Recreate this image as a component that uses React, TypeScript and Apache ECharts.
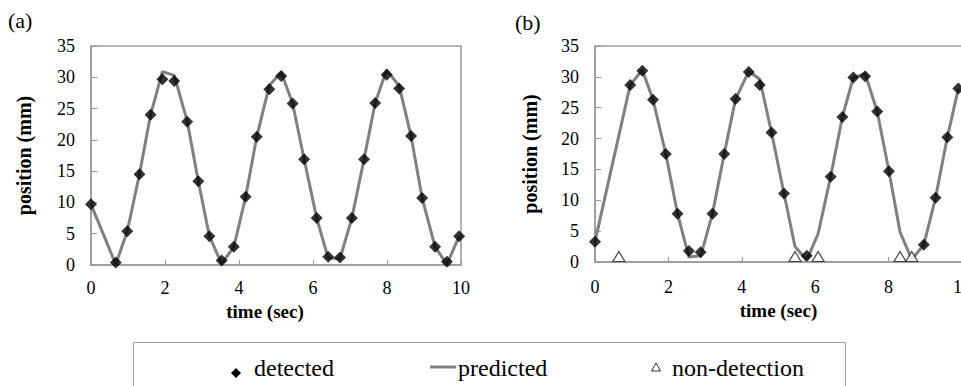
import React, { useEffect, useRef } from "react";
import * as echarts from "echarts";

// ---- data ----
// panel (a)
const timeA = [0, 0.67, 0.98, 1.31, 1.61, 1.93, 2.25, 2.6, 2.9, 3.2, 3.53, 3.86, 4.18, 4.48, 4.82, 5.14, 5.45, 5.76, 6.1, 6.41, 6.73, 7.05, 7.38, 7.68, 7.99, 8.33, 8.65, 8.95, 9.3, 9.62, 9.95];
const detectedA = [9.7, 0.4, 5.4, 14.5, 24.0, 29.7, 29.4, 22.9, 13.4, 4.6, 0.7, 2.9, 10.9, 20.5, 28.1, 30.2, 25.8, 16.9, 7.5, 1.3, 1.2, 7.5, 16.9, 25.9, 30.4, 28.2, 20.6, 10.7, 2.9, 0.5, 4.6];
const predictedA = [9.7, 0.1, 5.4, 14.5, 24.0, 30.9, 30.3, 23.0, 13.4, 4.6, 0.2, 2.9, 10.9, 20.5, 28.7, 30.8, 25.8, 16.9, 7.5, 1.1, 1.0, 7.5, 16.9, 25.9, 31.2, 28.6, 20.6, 10.7, 2.9, 0.1, 4.6];

// panel (b)
const timeB = [0, 0.96, 1.29, 1.58, 1.93, 2.25, 2.56, 2.88, 3.2, 3.52, 3.83, 4.19, 4.49, 4.81, 5.15, 5.77, 6.42, 6.74, 7.04, 7.36, 7.69, 8.01, 8.96, 9.28, 9.6, 9.9];
const detectedB = [3.3, 28.7, 31.0, 26.3, 17.5, 7.8, 1.8, 1.6, 7.8, 17.5, 26.4, 30.8, 28.7, 21.0, 11.1, 1.0, 13.8, 23.5, 29.9, 30.1, 24.4, 14.7, 2.8, 10.4, 20.2, 28.1];
const predTimeB = [0, 0.96, 1.29, 1.58, 1.93, 2.25, 2.56, 2.88, 3.2, 3.52, 3.83, 4.19, 4.49, 4.81, 5.15, 5.45, 5.77, 6.08, 6.42, 6.74, 7.04, 7.36, 7.69, 8.01, 8.31, 8.63, 8.96, 9.28, 9.6, 9.9];
const predictedB = [3.3, 28.7, 31.1, 26.3, 17.5, 7.8, 0.8, 1.0, 7.8, 17.5, 26.4, 30.9, 29.6, 21.0, 11.1, 2.5, 0.3, 4.6, 13.8, 23.5, 29.9, 30.5, 24.4, 14.7, 4.9, 0.4, 2.8, 10.4, 20.2, 28.1];
const nonDetTimeB = [0.65, 5.45, 6.08, 8.31, 8.63];
const nonDetB = [0.9, 0.9, 0.9, 0.9, 0.9];

const xTicks = { min: 0, max: 10, interval: 2 };
const yTicks = { min: 0, max: 35, interval: 5 };

const zip = (xs: number[], ys: number[]) => xs.map((x, i) => [x, ys[i]]);

const SERIF = "Liberation Serif";
const AXIS_GRAY = "#9a9a9a";
const LINE_GRAY = "#808080";

function makeX(gridIndex: number, nameGap: number, labelMargin: number, shiftLeft: number) {
  return {
    type: "value",
    gridIndex,
    ...xTicks,
    name: "time (sec)",
    nameLocation: "middle",
    nameGap,
    nameTextStyle: {
      fontFamily: SERIF,
      fontWeight: "bold",
      fontSize: 19,
      color: "#000",
      padding: [0, shiftLeft * 2, 0, 0],
    },
    axisLine: { show: true, lineStyle: { color: AXIS_GRAY, width: 1.5 } },
    axisTick: { show: true, inside: true, length: 5, lineStyle: { color: AXIS_GRAY, width: 1 } },
    axisLabel: { fontFamily: SERIF, fontSize: 18, color: "#000", margin: labelMargin, hideOverlap: false },
    splitLine: { show: false },
  };
}

function makeY(gridIndex: number, nameGap: number) {
  return {
    type: "value",
    gridIndex,
    ...yTicks,
    name: "position (mm)",
    nameLocation: "middle",
    nameRotate: 90,
    nameGap,
    nameTextStyle: { fontFamily: SERIF, fontWeight: "bold", fontSize: 20, color: "#000" },
    axisLine: { show: true, lineStyle: { color: AXIS_GRAY, width: 1.5 } },
    axisTick: { show: true, inside: true, length: 6, lineStyle: { color: AXIS_GRAY, width: 1 } },
    axisLabel: { fontFamily: SERIF, fontSize: 18, color: "#000", margin: 16 },
    splitLine: { show: false },
  };
}

export default function App() {
  const ref = useRef<HTMLDivElement>(null);

  useEffect(() => {
    document.body.style.margin = "0";
    if (!ref.current) return;
    const chart = echarts.init(ref.current, undefined, { renderer: "svg" });

    const gridBase = {
      show: true,
      borderColor: AXIS_GRAY,
      borderWidth: 1.5,
      backgroundColor: "transparent",
      containLabel: false,
      outerBoundsMode: "none",
    };

    const option: any = {
      animation: false,
      backgroundColor: "#ffffff",
      textStyle: { fontFamily: SERIF },
      grid: [
        { ...gridBase, left: 91, top: 46, width: 370, height: 219 },
        { ...gridBase, left: 595, top: 46, width: 367, height: 216 },
      ],
      xAxis: [makeX(0, 31, 14, 11), makeX(1, 34, 16, 0)],
      yAxis: [makeY(0, 57), makeY(1, 55)],
      series: [
        {
          name: "predicted",
          type: "line",
          xAxisIndex: 0,
          yAxisIndex: 0,
          data: zip(timeA, predictedA),
          showSymbol: false,
          symbol: "none",
          clip: false,
          lineStyle: { color: LINE_GRAY, width: 3 },
          z: 2,
        },
        {
          name: "detected",
          type: "scatter",
          xAxisIndex: 0,
          yAxisIndex: 0,
          data: zip(timeA, detectedA),
          symbol: "diamond",
          symbolSize: 12,
          itemStyle: { color: "#000" },
          z: 3,
        },
        {
          name: "predicted",
          type: "line",
          xAxisIndex: 1,
          yAxisIndex: 1,
          data: zip(predTimeB, predictedB),
          showSymbol: false,
          symbol: "none",
          clip: false,
          lineStyle: { color: LINE_GRAY, width: 3 },
          z: 2,
        },
        {
          name: "detected",
          type: "scatter",
          xAxisIndex: 1,
          yAxisIndex: 1,
          data: zip(timeB, detectedB),
          symbol: "diamond",
          symbolSize: 12,
          itemStyle: { color: "#000" },
          z: 3,
        },
        {
          name: "non-detection",
          type: "scatter",
          xAxisIndex: 1,
          yAxisIndex: 1,
          data: zip(nonDetTimeB, nonDetB),
          symbol: "triangle",
          symbolSize: [12, 10],
          itemStyle: { color: "#ffffff", borderColor: "#222", borderWidth: 1.2 },
          z: 4,
        },
      ],
      graphic: [
        { type: "text", left: 8, top: 9, style: { text: "(a)", fontFamily: SERIF, fontSize: 22, fill: "#000" } },
        { type: "text", left: 515, top: 11, style: { text: "(b)", fontFamily: SERIF, fontSize: 22, fill: "#000" } },
        // legend box
        { type: "rect", shape: { x: 133.5, y: 342.5, width: 712, height: 60 }, style: { fill: "none", stroke: "#a0a0a0", lineWidth: 1 } },
        { type: "polygon", shape: { points: [[236, 368], [241, 373], [236, 378], [231, 373]] }, style: { fill: "#000" } },
        { type: "text", x: 254, y: 368, style: { text: "detected", fontFamily: SERIF, fontSize: 24, fill: "#000", verticalAlign: "middle", align: "left" } },
        { type: "line", shape: { x1: 430, y1: 367, x2: 456, y2: 367 }, style: { stroke: LINE_GRAY, lineWidth: 3 } },
        { type: "text", x: 458, y: 368, style: { text: "predicted", fontFamily: SERIF, fontSize: 24, fill: "#000", verticalAlign: "middle", align: "left" } },
        { type: "polygon", shape: { points: [[656, 363], [660.5, 371], [651.5, 371]] }, style: { fill: "#fff", stroke: "#333", lineWidth: 1 } },
        { type: "text", x: 672, y: 368, style: { text: "non-detection", fontFamily: SERIF, fontSize: 24, fill: "#000", verticalAlign: "middle", align: "left" } },
      ],
    };

    chart.setOption(option);
    return () => chart.dispose();
  }, []);

  return <div ref={ref} style={{ width: 961, height: 386 }} />;
}
